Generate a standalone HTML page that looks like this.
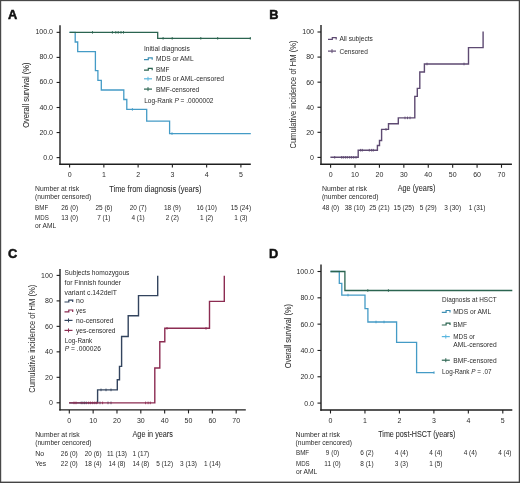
<!DOCTYPE html>
<html><head><meta charset="utf-8"><style>
html,body{margin:0;padding:0;background:#fff;}
#fig{position:relative;width:520px;height:483px;overflow:hidden;background:#fff;}
svg{position:absolute;left:0;top:0;will-change:transform;}
svg text{font-family:"Liberation Sans",sans-serif;}
</style></head><body>
<div id="fig">
<svg width="520" height="483" viewBox="0 0 520 483" fill="#2b2b2b">
<rect x="0" y="0" width="520" height="483" fill="#fff"/>
<text x="7.90" y="18.60" font-size="12.8" font-weight="bold" fill="#111" stroke="#111" stroke-width="0.5">A</text>
<line x1="60.00" y1="25.30" x2="60.00" y2="164.90" stroke="#1e1e1e" stroke-width="1.4"/>
<line x1="59.30" y1="164.20" x2="250.80" y2="164.20" stroke="#1e1e1e" stroke-width="1.4"/>
<line x1="56.60" y1="157.60" x2="60.00" y2="157.60" stroke="#1e1e1e" stroke-width="1.1"/>
<text x="53.00" y="159.61" font-size="7" text-anchor="end">0.0</text>
<line x1="56.60" y1="132.55" x2="60.00" y2="132.55" stroke="#1e1e1e" stroke-width="1.1"/>
<text x="53.00" y="134.56" font-size="7" text-anchor="end">20.0</text>
<line x1="56.60" y1="107.50" x2="60.00" y2="107.50" stroke="#1e1e1e" stroke-width="1.1"/>
<text x="53.00" y="109.51" font-size="7" text-anchor="end">40.0</text>
<line x1="56.60" y1="82.45" x2="60.00" y2="82.45" stroke="#1e1e1e" stroke-width="1.1"/>
<text x="53.00" y="84.46" font-size="7" text-anchor="end">60.0</text>
<line x1="56.60" y1="57.40" x2="60.00" y2="57.40" stroke="#1e1e1e" stroke-width="1.1"/>
<text x="53.00" y="59.41" font-size="7" text-anchor="end">80.0</text>
<line x1="56.60" y1="32.35" x2="60.00" y2="32.35" stroke="#1e1e1e" stroke-width="1.1"/>
<text x="53.00" y="34.36" font-size="7" text-anchor="end">100.0</text>
<line x1="69.60" y1="164.20" x2="69.60" y2="167.60" stroke="#1e1e1e" stroke-width="1.1"/>
<text x="69.60" y="177.40" font-size="7" text-anchor="middle">0</text>
<line x1="103.86" y1="164.20" x2="103.86" y2="167.60" stroke="#1e1e1e" stroke-width="1.1"/>
<text x="103.86" y="177.40" font-size="7" text-anchor="middle">1</text>
<line x1="138.12" y1="164.20" x2="138.12" y2="167.60" stroke="#1e1e1e" stroke-width="1.1"/>
<text x="138.12" y="177.40" font-size="7" text-anchor="middle">2</text>
<line x1="172.38" y1="164.20" x2="172.38" y2="167.60" stroke="#1e1e1e" stroke-width="1.1"/>
<text x="172.38" y="177.40" font-size="7" text-anchor="middle">3</text>
<line x1="206.64" y1="164.20" x2="206.64" y2="167.60" stroke="#1e1e1e" stroke-width="1.1"/>
<text x="206.64" y="177.40" font-size="7" text-anchor="middle">4</text>
<line x1="240.90" y1="164.20" x2="240.90" y2="167.60" stroke="#1e1e1e" stroke-width="1.1"/>
<text x="240.90" y="177.40" font-size="7" text-anchor="middle">5</text>
<text x="29.40" y="95.15" font-size="9.6" text-anchor="middle" textLength="65.30" lengthAdjust="spacingAndGlyphs" transform="rotate(-90 29.40 95.15)" stroke="#2b2b2b" stroke-width="0.06">Overall survival (%)</text>
<text x="109.20" y="191.50" font-size="9.6" textLength="92.30" lengthAdjust="spacingAndGlyphs" stroke="#2b2b2b" stroke-width="0.06">Time from diagnosis (years)</text>
<path d="M69.6 32.35 H75.2 V41.98 H77.7 V51.6 H95.4 V70.7 H97.9 V80.4 H101.3 V90 H123.8 V99.5 H126.8 V109.4 H146.7 V121.2 H169.6 V133.6 H250.8" fill="none" stroke="#449bc6" stroke-width="1.3" stroke-linejoin="miter" stroke-linecap="butt"/>
<line x1="132.40" y1="108.10" x2="132.40" y2="110.70" stroke="#449bc6" stroke-width="0.9"/>
<line x1="172.00" y1="132.30" x2="172.00" y2="134.90" stroke="#449bc6" stroke-width="0.9"/>
<path d="M69.5 32.35 H157.7 V38.3 H250.8" fill="none" stroke="#2b6450" stroke-width="1.3" stroke-linejoin="miter" stroke-linecap="butt"/>
<line x1="92.50" y1="31.05" x2="92.50" y2="33.65" stroke="#2b6450" stroke-width="0.9"/>
<line x1="112.40" y1="31.05" x2="112.40" y2="33.65" stroke="#2b6450" stroke-width="0.9"/>
<line x1="115.80" y1="31.05" x2="115.80" y2="33.65" stroke="#2b6450" stroke-width="0.9"/>
<line x1="118.20" y1="31.05" x2="118.20" y2="33.65" stroke="#2b6450" stroke-width="0.9"/>
<line x1="121.00" y1="31.05" x2="121.00" y2="33.65" stroke="#2b6450" stroke-width="0.9"/>
<line x1="123.50" y1="31.05" x2="123.50" y2="33.65" stroke="#2b6450" stroke-width="0.9"/>
<line x1="163.10" y1="37.00" x2="163.10" y2="39.60" stroke="#2b6450" stroke-width="0.9"/>
<line x1="172.20" y1="37.00" x2="172.20" y2="39.60" stroke="#2b6450" stroke-width="0.9"/>
<line x1="200.80" y1="37.00" x2="200.80" y2="39.60" stroke="#2b6450" stroke-width="0.9"/>
<line x1="217.70" y1="37.00" x2="217.70" y2="39.60" stroke="#2b6450" stroke-width="0.9"/>
<line x1="250.30" y1="37.00" x2="250.30" y2="39.60" stroke="#2b6450" stroke-width="0.9"/>
<text x="144.00" y="51.10" font-size="7" textLength="45.80" lengthAdjust="spacingAndGlyphs">Initial diagnosis</text>
<path d="M144.00 59.70 H148.30 V57.90 H152.20 V59.80" fill="none" stroke="#3d8fb3" stroke-width="1.2" stroke-linejoin="miter" stroke-linecap="butt"/>
<text x="155.90" y="61.21" font-size="7" textLength="37.70" lengthAdjust="spacingAndGlyphs">MDS or AML</text>
<path d="M144.00 70.10 H148.30 V68.30 H152.20 V70.20" fill="none" stroke="#2b6450" stroke-width="1.2" stroke-linejoin="miter" stroke-linecap="butt"/>
<text x="155.90" y="71.61" font-size="7" textLength="13.50" lengthAdjust="spacingAndGlyphs">BMF</text>
<path d="M144.00 78.80 H152.00" fill="none" stroke="#5ab6df" stroke-width="1.2" stroke-linejoin="miter" stroke-linecap="butt"/>
<path d="M148.00 76.80 V80.80" fill="none" stroke="#5ab6df" stroke-width="0.96" stroke-linejoin="miter" stroke-linecap="butt"/>
<text x="155.90" y="81.21" font-size="7" textLength="68.00" lengthAdjust="spacingAndGlyphs">MDS or AML-censored</text>
<path d="M144.00 89.10 H152.00" fill="none" stroke="#2b6450" stroke-width="1.2" stroke-linejoin="miter" stroke-linecap="butt"/>
<path d="M148.00 87.10 V91.10" fill="none" stroke="#2b6450" stroke-width="0.96" stroke-linejoin="miter" stroke-linecap="butt"/>
<text x="155.90" y="92.11" font-size="7" textLength="43.40" lengthAdjust="spacingAndGlyphs">BMF-censored</text>
<text x="144.20" y="102.51" font-size="7" textLength="69.30" lengthAdjust="spacingAndGlyphs">Log-Rank <tspan font-style="italic">P</tspan> = .0000002</text>
<text x="35.10" y="191.00" font-size="6.8" textLength="44.00" lengthAdjust="spacingAndGlyphs">Number at risk</text>
<text x="35.10" y="198.90" font-size="6.8" textLength="56.10" lengthAdjust="spacingAndGlyphs">(number censored)</text>
<text x="35.10" y="209.94" font-size="6.8" textLength="13.10" lengthAdjust="spacingAndGlyphs">BMF</text>
<text x="35.10" y="220.04" font-size="6.8" textLength="13.70" lengthAdjust="spacingAndGlyphs">MDS</text>
<text x="35.10" y="228.04" font-size="6.8" textLength="21.10" lengthAdjust="spacingAndGlyphs">or AML</text>
<text x="69.60" y="210.04" font-size="6.8" text-anchor="middle" textLength="16.88" lengthAdjust="spacingAndGlyphs">26 (0)</text>
<text x="69.60" y="220.24" font-size="6.8" text-anchor="middle" textLength="16.88" lengthAdjust="spacingAndGlyphs">13 (0)</text>
<text x="103.86" y="210.04" font-size="6.8" text-anchor="middle" textLength="16.88" lengthAdjust="spacingAndGlyphs">25 (6)</text>
<text x="103.86" y="220.24" font-size="6.8" text-anchor="middle" textLength="13.28" lengthAdjust="spacingAndGlyphs">7 (1)</text>
<text x="138.12" y="210.04" font-size="6.8" text-anchor="middle" textLength="16.88" lengthAdjust="spacingAndGlyphs">20 (7)</text>
<text x="138.12" y="220.24" font-size="6.8" text-anchor="middle" textLength="13.28" lengthAdjust="spacingAndGlyphs">4 (1)</text>
<text x="172.38" y="210.04" font-size="6.8" text-anchor="middle" textLength="16.88" lengthAdjust="spacingAndGlyphs">18 (9)</text>
<text x="172.38" y="220.24" font-size="6.8" text-anchor="middle" textLength="13.28" lengthAdjust="spacingAndGlyphs">2 (2)</text>
<text x="206.64" y="210.04" font-size="6.8" text-anchor="middle" textLength="20.47" lengthAdjust="spacingAndGlyphs">16 (10)</text>
<text x="206.64" y="220.24" font-size="6.8" text-anchor="middle" textLength="13.28" lengthAdjust="spacingAndGlyphs">1 (2)</text>
<text x="240.90" y="210.04" font-size="6.8" text-anchor="middle" textLength="20.47" lengthAdjust="spacingAndGlyphs">15 (24)</text>
<text x="240.90" y="220.24" font-size="6.8" text-anchor="middle" textLength="13.28" lengthAdjust="spacingAndGlyphs">1 (3)</text>
<text x="269.20" y="18.50" font-size="12.8" font-weight="bold" fill="#111" stroke="#111" stroke-width="0.5">B</text>
<line x1="321.00" y1="24.90" x2="321.00" y2="165.00" stroke="#1e1e1e" stroke-width="1.4"/>
<line x1="320.30" y1="164.30" x2="511.90" y2="164.30" stroke="#1e1e1e" stroke-width="1.4"/>
<line x1="317.50" y1="157.40" x2="321.00" y2="157.40" stroke="#1e1e1e" stroke-width="1.1"/>
<text x="314.00" y="159.81" font-size="7" text-anchor="end">0</text>
<line x1="317.50" y1="132.32" x2="321.00" y2="132.32" stroke="#1e1e1e" stroke-width="1.1"/>
<text x="314.00" y="134.73" font-size="7" text-anchor="end">20</text>
<line x1="317.50" y1="107.24" x2="321.00" y2="107.24" stroke="#1e1e1e" stroke-width="1.1"/>
<text x="314.00" y="109.65" font-size="7" text-anchor="end">40</text>
<line x1="317.50" y1="82.16" x2="321.00" y2="82.16" stroke="#1e1e1e" stroke-width="1.1"/>
<text x="314.00" y="84.57" font-size="7" text-anchor="end">60</text>
<line x1="317.50" y1="57.08" x2="321.00" y2="57.08" stroke="#1e1e1e" stroke-width="1.1"/>
<text x="314.00" y="59.49" font-size="7" text-anchor="end">80</text>
<line x1="317.50" y1="32.00" x2="321.00" y2="32.00" stroke="#1e1e1e" stroke-width="1.1"/>
<text x="314.00" y="34.41" font-size="7" text-anchor="end">100</text>
<line x1="330.60" y1="164.30" x2="330.60" y2="167.80" stroke="#1e1e1e" stroke-width="1.1"/>
<text x="330.60" y="176.80" font-size="7" text-anchor="middle">0</text>
<line x1="355.01" y1="164.30" x2="355.01" y2="167.80" stroke="#1e1e1e" stroke-width="1.1"/>
<text x="355.01" y="176.80" font-size="7" text-anchor="middle">10</text>
<line x1="379.43" y1="164.30" x2="379.43" y2="167.80" stroke="#1e1e1e" stroke-width="1.1"/>
<text x="379.43" y="176.80" font-size="7" text-anchor="middle">20</text>
<line x1="403.84" y1="164.30" x2="403.84" y2="167.80" stroke="#1e1e1e" stroke-width="1.1"/>
<text x="403.84" y="176.80" font-size="7" text-anchor="middle">30</text>
<line x1="428.26" y1="164.30" x2="428.26" y2="167.80" stroke="#1e1e1e" stroke-width="1.1"/>
<text x="428.26" y="176.80" font-size="7" text-anchor="middle">40</text>
<line x1="452.67" y1="164.30" x2="452.67" y2="167.80" stroke="#1e1e1e" stroke-width="1.1"/>
<text x="452.67" y="176.80" font-size="7" text-anchor="middle">50</text>
<line x1="477.08" y1="164.30" x2="477.08" y2="167.80" stroke="#1e1e1e" stroke-width="1.1"/>
<text x="477.08" y="176.80" font-size="7" text-anchor="middle">60</text>
<line x1="501.50" y1="164.30" x2="501.50" y2="167.80" stroke="#1e1e1e" stroke-width="1.1"/>
<text x="501.50" y="176.80" font-size="7" text-anchor="middle">70</text>
<text x="296.10" y="94.55" font-size="8.2" text-anchor="middle" textLength="108.00" lengthAdjust="spacingAndGlyphs" transform="rotate(-90 296.10 94.55)">Cumulative incidence of HM (%)</text>
<text x="397.70" y="191.40" font-size="9.6" textLength="37.70" lengthAdjust="spacingAndGlyphs" stroke="#2b2b2b" stroke-width="0.06">Age (years)</text>
<path d="M330.4 157.3 H358.2 V150.2 H377.4 V145.5 H379.5 V140.5 H381.6 V129.4 H388.5 V123.8 H398.3 V117.9 H414.8 V96.4 H417.3 V88.4 H419.8 V72 H424.4 V64 H468.5 V47.6 H483.1 V31.5" fill="none" stroke="#5e4a72" stroke-width="1.4" stroke-linejoin="miter" stroke-linecap="butt"/>
<line x1="334.70" y1="156.00" x2="334.70" y2="158.60" stroke="#5e4a72" stroke-width="0.9"/>
<line x1="341.60" y1="156.00" x2="341.60" y2="158.60" stroke="#5e4a72" stroke-width="0.9"/>
<line x1="343.30" y1="156.00" x2="343.30" y2="158.60" stroke="#5e4a72" stroke-width="0.9"/>
<line x1="345.40" y1="156.00" x2="345.40" y2="158.60" stroke="#5e4a72" stroke-width="0.9"/>
<line x1="347.30" y1="156.00" x2="347.30" y2="158.60" stroke="#5e4a72" stroke-width="0.9"/>
<line x1="349.70" y1="156.00" x2="349.70" y2="158.60" stroke="#5e4a72" stroke-width="0.9"/>
<line x1="351.60" y1="156.00" x2="351.60" y2="158.60" stroke="#5e4a72" stroke-width="0.9"/>
<line x1="353.70" y1="156.00" x2="353.70" y2="158.60" stroke="#5e4a72" stroke-width="0.9"/>
<line x1="356.00" y1="156.00" x2="356.00" y2="158.60" stroke="#5e4a72" stroke-width="0.9"/>
<line x1="360.60" y1="148.90" x2="360.60" y2="151.50" stroke="#5e4a72" stroke-width="0.9"/>
<line x1="362.30" y1="148.90" x2="362.30" y2="151.50" stroke="#5e4a72" stroke-width="0.9"/>
<line x1="369.30" y1="148.90" x2="369.30" y2="151.50" stroke="#5e4a72" stroke-width="0.9"/>
<line x1="371.60" y1="148.90" x2="371.60" y2="151.50" stroke="#5e4a72" stroke-width="0.9"/>
<line x1="373.30" y1="148.90" x2="373.30" y2="151.50" stroke="#5e4a72" stroke-width="0.9"/>
<line x1="386.00" y1="128.10" x2="386.00" y2="130.70" stroke="#5e4a72" stroke-width="0.9"/>
<line x1="405.00" y1="116.60" x2="405.00" y2="119.20" stroke="#5e4a72" stroke-width="0.9"/>
<line x1="407.50" y1="116.60" x2="407.50" y2="119.20" stroke="#5e4a72" stroke-width="0.9"/>
<line x1="410.00" y1="116.60" x2="410.00" y2="119.20" stroke="#5e4a72" stroke-width="0.9"/>
<line x1="427.00" y1="62.70" x2="427.00" y2="65.30" stroke="#5e4a72" stroke-width="0.9"/>
<line x1="464.00" y1="62.70" x2="464.00" y2="65.30" stroke="#5e4a72" stroke-width="0.9"/>
<path d="M328.00 39.40 H332.30 V37.60 H336.20 V39.50" fill="none" stroke="#5e4a72" stroke-width="1.2" stroke-linejoin="miter" stroke-linecap="butt"/>
<text x="339.50" y="40.91" font-size="7" textLength="33.30" lengthAdjust="spacingAndGlyphs">All subjects</text>
<path d="M328.00 51.10 H336.00" fill="none" stroke="#5e4a72" stroke-width="1.2" stroke-linejoin="miter" stroke-linecap="butt"/>
<path d="M332.00 49.10 V53.10" fill="none" stroke="#5e4a72" stroke-width="0.96" stroke-linejoin="miter" stroke-linecap="butt"/>
<text x="339.50" y="53.51" font-size="7" textLength="28.30" lengthAdjust="spacingAndGlyphs">Censored</text>
<text x="321.90" y="190.84" font-size="6.8" textLength="45.00" lengthAdjust="spacingAndGlyphs">Number at risk</text>
<text x="321.90" y="198.54" font-size="6.8" textLength="56.60" lengthAdjust="spacingAndGlyphs">(number cencored)</text>
<text x="330.60" y="209.54" font-size="6.8" text-anchor="middle" textLength="16.88" lengthAdjust="spacingAndGlyphs">48 (0)</text>
<text x="355.01" y="209.54" font-size="6.8" text-anchor="middle" textLength="20.47" lengthAdjust="spacingAndGlyphs">38 (10)</text>
<text x="379.43" y="209.54" font-size="6.8" text-anchor="middle" textLength="20.47" lengthAdjust="spacingAndGlyphs">25 (21)</text>
<text x="403.84" y="209.54" font-size="6.8" text-anchor="middle" textLength="20.47" lengthAdjust="spacingAndGlyphs">15 (25)</text>
<text x="428.26" y="209.54" font-size="6.8" text-anchor="middle" textLength="16.88" lengthAdjust="spacingAndGlyphs">5 (29)</text>
<text x="452.67" y="209.54" font-size="6.8" text-anchor="middle" textLength="16.88" lengthAdjust="spacingAndGlyphs">3 (30)</text>
<text x="477.08" y="209.54" font-size="6.8" text-anchor="middle" textLength="16.88" lengthAdjust="spacingAndGlyphs">1 (31)</text>
<text x="8.10" y="258.30" font-size="12.8" font-weight="bold" fill="#111" stroke="#111" stroke-width="0.5">C</text>
<line x1="60.00" y1="268.90" x2="60.00" y2="410.60" stroke="#1e1e1e" stroke-width="1.4"/>
<line x1="59.30" y1="409.90" x2="245.80" y2="409.90" stroke="#1e1e1e" stroke-width="1.4"/>
<line x1="56.60" y1="402.80" x2="60.00" y2="402.80" stroke="#1e1e1e" stroke-width="1.1"/>
<text x="52.80" y="405.21" font-size="7" text-anchor="end">0</text>
<line x1="56.60" y1="377.32" x2="60.00" y2="377.32" stroke="#1e1e1e" stroke-width="1.1"/>
<text x="52.80" y="379.73" font-size="7" text-anchor="end">20</text>
<line x1="56.60" y1="351.84" x2="60.00" y2="351.84" stroke="#1e1e1e" stroke-width="1.1"/>
<text x="52.80" y="354.25" font-size="7" text-anchor="end">40</text>
<line x1="56.60" y1="326.36" x2="60.00" y2="326.36" stroke="#1e1e1e" stroke-width="1.1"/>
<text x="52.80" y="328.77" font-size="7" text-anchor="end">60</text>
<line x1="56.60" y1="300.88" x2="60.00" y2="300.88" stroke="#1e1e1e" stroke-width="1.1"/>
<text x="52.80" y="303.29" font-size="7" text-anchor="end">80</text>
<line x1="56.60" y1="275.40" x2="60.00" y2="275.40" stroke="#1e1e1e" stroke-width="1.1"/>
<text x="52.80" y="277.81" font-size="7" text-anchor="end">100</text>
<line x1="69.30" y1="409.90" x2="69.30" y2="413.40" stroke="#1e1e1e" stroke-width="1.1"/>
<text x="69.30" y="422.80" font-size="7" text-anchor="middle">0</text>
<line x1="93.14" y1="409.90" x2="93.14" y2="413.40" stroke="#1e1e1e" stroke-width="1.1"/>
<text x="93.14" y="422.80" font-size="7" text-anchor="middle">10</text>
<line x1="116.98" y1="409.90" x2="116.98" y2="413.40" stroke="#1e1e1e" stroke-width="1.1"/>
<text x="116.98" y="422.80" font-size="7" text-anchor="middle">20</text>
<line x1="140.82" y1="409.90" x2="140.82" y2="413.40" stroke="#1e1e1e" stroke-width="1.1"/>
<text x="140.82" y="422.80" font-size="7" text-anchor="middle">30</text>
<line x1="164.66" y1="409.90" x2="164.66" y2="413.40" stroke="#1e1e1e" stroke-width="1.1"/>
<text x="164.66" y="422.80" font-size="7" text-anchor="middle">40</text>
<line x1="188.50" y1="409.90" x2="188.50" y2="413.40" stroke="#1e1e1e" stroke-width="1.1"/>
<text x="188.50" y="422.80" font-size="7" text-anchor="middle">50</text>
<line x1="212.34" y1="409.90" x2="212.34" y2="413.40" stroke="#1e1e1e" stroke-width="1.1"/>
<text x="212.34" y="422.80" font-size="7" text-anchor="middle">60</text>
<line x1="236.18" y1="409.90" x2="236.18" y2="413.40" stroke="#1e1e1e" stroke-width="1.1"/>
<text x="236.18" y="422.80" font-size="7" text-anchor="middle">70</text>
<text x="35.00" y="338.75" font-size="8.2" text-anchor="middle" textLength="108.00" lengthAdjust="spacingAndGlyphs" transform="rotate(-90 35.00 338.75)">Cumulative incidence of HM (%)</text>
<text x="132.50" y="436.80" font-size="9.6" textLength="40.40" lengthAdjust="spacingAndGlyphs" stroke="#2b2b2b" stroke-width="0.06">Age in years</text>
<path d="M69.3 402.9 H97.6 V389.9 H117.3 V379.7 H119.5 V366.4 H121.6 V336.5 H128.2 V315.8 H138.5 V295.6 H157.7 V275.8" fill="none" stroke="#33445e" stroke-width="1.4" stroke-linejoin="miter" stroke-linecap="butt"/>
<line x1="81.20" y1="401.60" x2="81.20" y2="404.20" stroke="#33445e" stroke-width="0.9"/>
<line x1="82.90" y1="401.60" x2="82.90" y2="404.20" stroke="#33445e" stroke-width="0.9"/>
<line x1="84.60" y1="401.60" x2="84.60" y2="404.20" stroke="#33445e" stroke-width="0.9"/>
<line x1="86.30" y1="401.60" x2="86.30" y2="404.20" stroke="#33445e" stroke-width="0.9"/>
<line x1="100.00" y1="401.60" x2="100.00" y2="404.20" stroke="#33445e" stroke-width="0.9"/>
<line x1="108.00" y1="401.60" x2="108.00" y2="404.20" stroke="#33445e" stroke-width="0.9"/>
<line x1="111.00" y1="401.60" x2="111.00" y2="404.20" stroke="#33445e" stroke-width="0.9"/>
<line x1="101.00" y1="388.60" x2="101.00" y2="391.20" stroke="#33445e" stroke-width="0.9"/>
<line x1="106.00" y1="388.60" x2="106.00" y2="391.20" stroke="#33445e" stroke-width="0.9"/>
<line x1="111.00" y1="388.60" x2="111.00" y2="391.20" stroke="#33445e" stroke-width="0.9"/>
<path d="M69 402.9 H154.8 V368 H159.8 V341.8 H164.8 V328.3 H209.5 V301.4 H224.3 V275.8" fill="none" stroke="#8c2c52" stroke-width="1.4" stroke-linejoin="miter" stroke-linecap="butt"/>
<line x1="74.00" y1="401.60" x2="74.00" y2="404.20" stroke="#8c2c52" stroke-width="0.9"/>
<line x1="76.00" y1="401.60" x2="76.00" y2="404.20" stroke="#8c2c52" stroke-width="0.9"/>
<line x1="88.70" y1="401.60" x2="88.70" y2="404.20" stroke="#8c2c52" stroke-width="0.9"/>
<line x1="90.60" y1="401.60" x2="90.60" y2="404.20" stroke="#8c2c52" stroke-width="0.9"/>
<line x1="92.70" y1="401.60" x2="92.70" y2="404.20" stroke="#8c2c52" stroke-width="0.9"/>
<line x1="94.80" y1="401.60" x2="94.80" y2="404.20" stroke="#8c2c52" stroke-width="0.9"/>
<line x1="96.70" y1="401.60" x2="96.70" y2="404.20" stroke="#8c2c52" stroke-width="0.9"/>
<line x1="102.60" y1="401.60" x2="102.60" y2="404.20" stroke="#8c2c52" stroke-width="0.9"/>
<line x1="145.60" y1="401.60" x2="145.60" y2="404.20" stroke="#8c2c52" stroke-width="0.9"/>
<line x1="148.10" y1="401.60" x2="148.10" y2="404.20" stroke="#8c2c52" stroke-width="0.9"/>
<line x1="150.30" y1="401.60" x2="150.30" y2="404.20" stroke="#8c2c52" stroke-width="0.9"/>
<line x1="167.00" y1="327.00" x2="167.00" y2="329.60" stroke="#8c2c52" stroke-width="0.9"/>
<line x1="206.00" y1="327.00" x2="206.00" y2="329.60" stroke="#8c2c52" stroke-width="0.9"/>
<text x="64.60" y="274.94" font-size="6.8" textLength="64.80" lengthAdjust="spacingAndGlyphs">Subjects homozygous</text>
<text x="64.60" y="284.84" font-size="6.8" textLength="56.40" lengthAdjust="spacingAndGlyphs">for Finnish founder</text>
<text x="64.60" y="294.54" font-size="6.8" textLength="52.40" lengthAdjust="spacingAndGlyphs">variant c.142delT</text>
<path d="M64.50 302.00 H68.80 V300.20 H72.70 V302.10" fill="none" stroke="#33445e" stroke-width="1.2" stroke-linejoin="miter" stroke-linecap="butt"/>
<text x="76.10" y="303.44" font-size="6.8" textLength="7.70" lengthAdjust="spacingAndGlyphs">no</text>
<path d="M64.50 311.80 H68.80 V310.00 H72.70 V311.90" fill="none" stroke="#8c2c52" stroke-width="1.2" stroke-linejoin="miter" stroke-linecap="butt"/>
<text x="76.10" y="313.24" font-size="6.8" textLength="9.80" lengthAdjust="spacingAndGlyphs">yes</text>
<path d="M64.50 320.40 H72.50" fill="none" stroke="#33445e" stroke-width="1.2" stroke-linejoin="miter" stroke-linecap="butt"/>
<path d="M68.50 318.40 V322.40" fill="none" stroke="#33445e" stroke-width="0.96" stroke-linejoin="miter" stroke-linecap="butt"/>
<text x="76.10" y="322.74" font-size="6.8" textLength="37.30" lengthAdjust="spacingAndGlyphs">no-censored</text>
<path d="M64.50 330.40 H72.50" fill="none" stroke="#8c2c52" stroke-width="1.2" stroke-linejoin="miter" stroke-linecap="butt"/>
<path d="M68.50 328.40 V332.40" fill="none" stroke="#8c2c52" stroke-width="0.96" stroke-linejoin="miter" stroke-linecap="butt"/>
<text x="76.10" y="332.84" font-size="6.8" textLength="39.40" lengthAdjust="spacingAndGlyphs">yes-censored</text>
<text x="64.80" y="343.10" font-size="6.8" textLength="27.40" lengthAdjust="spacingAndGlyphs">Log-Rank</text>
<text x="64.80" y="351.20" font-size="6.8" textLength="36.10" lengthAdjust="spacingAndGlyphs"><tspan font-style="italic">P</tspan> = .000026</text>
<text x="35.20" y="436.84" font-size="6.8" textLength="44.40" lengthAdjust="spacingAndGlyphs">Number at risk</text>
<text x="35.20" y="444.94" font-size="6.8" textLength="56.40" lengthAdjust="spacingAndGlyphs">(number cencored)</text>
<text x="35.20" y="455.84" font-size="6.8" textLength="8.90" lengthAdjust="spacingAndGlyphs">No</text>
<text x="35.20" y="465.54" font-size="6.8" textLength="11.00" lengthAdjust="spacingAndGlyphs">Yes</text>
<text x="69.30" y="455.84" font-size="6.8" text-anchor="middle" textLength="16.88" lengthAdjust="spacingAndGlyphs">26 (0)</text>
<text x="93.14" y="455.84" font-size="6.8" text-anchor="middle" textLength="16.88" lengthAdjust="spacingAndGlyphs">20 (6)</text>
<text x="116.98" y="455.84" font-size="6.8" text-anchor="middle" textLength="19.99" lengthAdjust="spacingAndGlyphs">11 (13)</text>
<text x="140.82" y="455.84" font-size="6.8" text-anchor="middle" textLength="16.88" lengthAdjust="spacingAndGlyphs">1 (17)</text>
<text x="69.30" y="465.54" font-size="6.8" text-anchor="middle" textLength="16.88" lengthAdjust="spacingAndGlyphs">22 (0)</text>
<text x="93.14" y="465.54" font-size="6.8" text-anchor="middle" textLength="16.88" lengthAdjust="spacingAndGlyphs">18 (4)</text>
<text x="116.98" y="465.54" font-size="6.8" text-anchor="middle" textLength="16.88" lengthAdjust="spacingAndGlyphs">14 (8)</text>
<text x="140.82" y="465.54" font-size="6.8" text-anchor="middle" textLength="16.88" lengthAdjust="spacingAndGlyphs">14 (8)</text>
<text x="164.66" y="465.54" font-size="6.8" text-anchor="middle" textLength="16.88" lengthAdjust="spacingAndGlyphs">5 (12)</text>
<text x="188.50" y="465.54" font-size="6.8" text-anchor="middle" textLength="16.88" lengthAdjust="spacingAndGlyphs">3 (13)</text>
<text x="212.34" y="465.54" font-size="6.8" text-anchor="middle" textLength="16.88" lengthAdjust="spacingAndGlyphs">1 (14)</text>
<text x="268.90" y="258.00" font-size="12.8" font-weight="bold" fill="#111" stroke="#111" stroke-width="0.5">D</text>
<line x1="321.00" y1="264.60" x2="321.00" y2="410.70" stroke="#1e1e1e" stroke-width="1.4"/>
<line x1="320.30" y1="410.00" x2="512.30" y2="410.00" stroke="#1e1e1e" stroke-width="1.4"/>
<line x1="317.50" y1="403.10" x2="321.00" y2="403.10" stroke="#1e1e1e" stroke-width="1.1"/>
<text x="314.00" y="405.51" font-size="7" text-anchor="end">0.0</text>
<line x1="317.50" y1="376.78" x2="321.00" y2="376.78" stroke="#1e1e1e" stroke-width="1.1"/>
<text x="314.00" y="379.19" font-size="7" text-anchor="end">20.0</text>
<line x1="317.50" y1="350.46" x2="321.00" y2="350.46" stroke="#1e1e1e" stroke-width="1.1"/>
<text x="314.00" y="352.87" font-size="7" text-anchor="end">40.0</text>
<line x1="317.50" y1="324.14" x2="321.00" y2="324.14" stroke="#1e1e1e" stroke-width="1.1"/>
<text x="314.00" y="326.55" font-size="7" text-anchor="end">60.0</text>
<line x1="317.50" y1="297.82" x2="321.00" y2="297.82" stroke="#1e1e1e" stroke-width="1.1"/>
<text x="314.00" y="300.23" font-size="7" text-anchor="end">80.0</text>
<line x1="317.50" y1="271.50" x2="321.00" y2="271.50" stroke="#1e1e1e" stroke-width="1.1"/>
<text x="314.00" y="273.91" font-size="7" text-anchor="end">100.0</text>
<line x1="330.50" y1="410.00" x2="330.50" y2="413.50" stroke="#1e1e1e" stroke-width="1.1"/>
<text x="330.50" y="422.80" font-size="7" text-anchor="middle">0</text>
<line x1="364.96" y1="410.00" x2="364.96" y2="413.50" stroke="#1e1e1e" stroke-width="1.1"/>
<text x="364.96" y="422.80" font-size="7" text-anchor="middle">1</text>
<line x1="399.42" y1="410.00" x2="399.42" y2="413.50" stroke="#1e1e1e" stroke-width="1.1"/>
<text x="399.42" y="422.80" font-size="7" text-anchor="middle">2</text>
<line x1="433.88" y1="410.00" x2="433.88" y2="413.50" stroke="#1e1e1e" stroke-width="1.1"/>
<text x="433.88" y="422.80" font-size="7" text-anchor="middle">3</text>
<line x1="468.34" y1="410.00" x2="468.34" y2="413.50" stroke="#1e1e1e" stroke-width="1.1"/>
<text x="468.34" y="422.80" font-size="7" text-anchor="middle">4</text>
<line x1="502.80" y1="410.00" x2="502.80" y2="413.50" stroke="#1e1e1e" stroke-width="1.1"/>
<text x="502.80" y="422.80" font-size="7" text-anchor="middle">5</text>
<text x="290.80" y="336.10" font-size="9.6" text-anchor="middle" textLength="64.20" lengthAdjust="spacingAndGlyphs" transform="rotate(-90 290.80 336.10)" stroke="#2b2b2b" stroke-width="0.06">Overall survival (%)</text>
<text x="378.20" y="436.80" font-size="9.6" textLength="77.30" lengthAdjust="spacingAndGlyphs" stroke="#2b2b2b" stroke-width="0.06">Time post-HSCT (years)</text>
<path d="M330.5 271.5 H339.3 V283.4 H341.8 V295.1 H365 V308.7 H367.9 V322 H396.6 V342.3 H416.6 V372.6 H434.2" fill="none" stroke="#449bc6" stroke-width="1.3" stroke-linejoin="miter" stroke-linecap="butt"/>
<line x1="348.00" y1="293.80" x2="348.00" y2="296.40" stroke="#449bc6" stroke-width="0.9"/>
<line x1="376.00" y1="320.70" x2="376.00" y2="323.30" stroke="#449bc6" stroke-width="0.9"/>
<line x1="384.00" y1="320.70" x2="384.00" y2="323.30" stroke="#449bc6" stroke-width="0.9"/>
<line x1="434.00" y1="371.30" x2="434.00" y2="373.90" stroke="#449bc6" stroke-width="0.9"/>
<path d="M330.5 271.5 H344.9 V290.5 H512.3" fill="none" stroke="#2b6450" stroke-width="1.3" stroke-linejoin="miter" stroke-linecap="butt"/>
<line x1="367.80" y1="289.20" x2="367.80" y2="291.80" stroke="#2b6450" stroke-width="0.9"/>
<line x1="388.40" y1="289.20" x2="388.40" y2="291.80" stroke="#2b6450" stroke-width="0.9"/>
<text x="442.10" y="302.11" font-size="7" textLength="54.60" lengthAdjust="spacingAndGlyphs">Diagnosis at HSCT</text>
<path d="M441.80 312.30 H446.10 V310.50 H450.00 V312.40" fill="none" stroke="#3d8fb3" stroke-width="1.2" stroke-linejoin="miter" stroke-linecap="butt"/>
<text x="453.30" y="313.81" font-size="7" textLength="37.80" lengthAdjust="spacingAndGlyphs">MDS or AML</text>
<path d="M441.80 325.00 H446.10 V323.20 H450.00 V325.10" fill="none" stroke="#2b6450" stroke-width="1.2" stroke-linejoin="miter" stroke-linecap="butt"/>
<text x="453.30" y="326.51" font-size="7" textLength="13.60" lengthAdjust="spacingAndGlyphs">BMF</text>
<path d="M441.80 336.60 H449.80" fill="none" stroke="#5ab6df" stroke-width="1.2" stroke-linejoin="miter" stroke-linecap="butt"/>
<path d="M445.80 334.60 V338.60" fill="none" stroke="#5ab6df" stroke-width="0.96" stroke-linejoin="miter" stroke-linecap="butt"/>
<text x="453.30" y="339.01" font-size="7" textLength="21.50" lengthAdjust="spacingAndGlyphs">MDS or</text>
<text x="453.30" y="347.31" font-size="7" textLength="43.40" lengthAdjust="spacingAndGlyphs">AML-censored</text>
<path d="M441.80 360.20 H449.80" fill="none" stroke="#2b6450" stroke-width="1.2" stroke-linejoin="miter" stroke-linecap="butt"/>
<path d="M445.80 358.20 V362.20" fill="none" stroke="#2b6450" stroke-width="0.96" stroke-linejoin="miter" stroke-linecap="butt"/>
<text x="453.30" y="362.61" font-size="7" textLength="43.40" lengthAdjust="spacingAndGlyphs">BMF-censored</text>
<text x="442.10" y="374.31" font-size="7" textLength="49.40" lengthAdjust="spacingAndGlyphs">Log-Rank <tspan font-style="italic">P</tspan> = .07</text>
<text x="295.50" y="436.94" font-size="6.8" textLength="44.50" lengthAdjust="spacingAndGlyphs">Number at risk</text>
<text x="295.50" y="444.94" font-size="6.8" textLength="56.50" lengthAdjust="spacingAndGlyphs">(number cencored)</text>
<text x="296.00" y="455.44" font-size="6.8" textLength="13.10" lengthAdjust="spacingAndGlyphs">BMF</text>
<text x="296.00" y="465.64" font-size="6.8" textLength="13.70" lengthAdjust="spacingAndGlyphs">MDS</text>
<text x="296.00" y="473.94" font-size="6.8" textLength="21.30" lengthAdjust="spacingAndGlyphs">or AML</text>
<text x="332.50" y="455.04" font-size="6.8" text-anchor="middle" textLength="13.28" lengthAdjust="spacingAndGlyphs">9 (0)</text>
<text x="366.96" y="455.04" font-size="6.8" text-anchor="middle" textLength="13.28" lengthAdjust="spacingAndGlyphs">6 (2)</text>
<text x="401.42" y="455.04" font-size="6.8" text-anchor="middle" textLength="13.28" lengthAdjust="spacingAndGlyphs">4 (4)</text>
<text x="435.88" y="455.04" font-size="6.8" text-anchor="middle" textLength="13.28" lengthAdjust="spacingAndGlyphs">4 (4)</text>
<text x="470.34" y="455.04" font-size="6.8" text-anchor="middle" textLength="13.28" lengthAdjust="spacingAndGlyphs">4 (4)</text>
<text x="504.80" y="455.04" font-size="6.8" text-anchor="middle" textLength="13.28" lengthAdjust="spacingAndGlyphs">4 (4)</text>
<text x="332.50" y="465.84" font-size="6.8" text-anchor="middle" textLength="16.40" lengthAdjust="spacingAndGlyphs">11 (0)</text>
<text x="366.96" y="465.84" font-size="6.8" text-anchor="middle" textLength="13.28" lengthAdjust="spacingAndGlyphs">8 (1)</text>
<text x="401.42" y="465.84" font-size="6.8" text-anchor="middle" textLength="13.28" lengthAdjust="spacingAndGlyphs">3 (3)</text>
<text x="435.88" y="465.84" font-size="6.8" text-anchor="middle" textLength="13.28" lengthAdjust="spacingAndGlyphs">1 (5)</text>
<rect x="0" y="0" width="520" height="1.15" fill="#484848"/><rect x="0" y="0" width="1.2" height="483" fill="#484848"/><rect x="518.75" y="0" width="1.25" height="483" fill="#444"/><rect x="0" y="481.6" width="520" height="1.4" fill="#444"/>
</svg>
</div>
</body></html>
